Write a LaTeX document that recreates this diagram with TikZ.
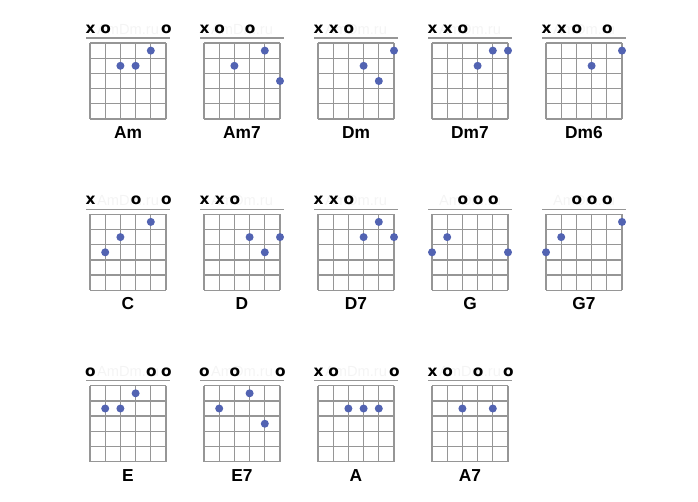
\documentclass[tikz,border=0pt]{standalone}
\usepackage{fontspec}
\setmainfont{Liberation Sans}
\newfontfamily\markfont{DejaVu Sans}
\definecolor{dotblue}{RGB}{82,99,178}
\definecolor{gridgray}{RGB}{150,150,150}
\definecolor{wmgray}{RGB}{244,244,244}
\tikzset{
  gridline/.style={draw=gridgray, line width=1pt},
  nutline/.style={draw=gridgray, line width=0.9pt},
  fingerdot/.style={fill=dotblue},
  chordname/.style={font=\bfseries\fontsize{13}{14}\selectfont, anchor=base, inner sep=0pt},
  stringmark/.style={font=\markfont\bfseries\fontsize{11.5}{12}\selectfont, anchor=base, inner sep=0pt},
  watermark/.style={font=\fontsize{11}{12}\selectfont, text=wmgray, anchor=base, inner sep=0pt},
}
% #1 left, #2 top, #3 id, #4 name, #5 string marks, #6 dots
\newcommand\chorddiagram[6]{%
  \begin{scope}[shift={(#1,#2)}]
    \node[watermark] (wm-#3) at (38,-9) {AmDm.ru};
    \draw[nutline] (-4,-5) -- (80,-5);
    \foreach \i in {0,...,5} {
      \draw[gridline] (\i*15.2,0) -- (\i*15.2,76);
      \draw[gridline] (0,\i*15.2) -- (76,\i*15.2);
    }
    \foreach \s/\m in {#5} \node[stringmark] (mk-#3-\s) at ({(\s-1)*15.2+0.5},-9.5) {\m};
    \foreach \s/\f in {#6} \fill[fingerdot] ({(\s-1)*15.2},{(\f-0.5)*15.2}) circle (4);
    \node[chordname] (lbl-#3) at (38,95.5) {#4};
  \end{scope}}
\begin{document}
\begin{tikzpicture}[x=0.75pt,y=-0.75pt]
  \useasboundingbox (0,0) rectangle (698,501);
  % row 1
  \chorddiagram{90}{43}{am}{Am}{1/x,2/o,6/o}{5/1,3/2,4/2}
  \chorddiagram{204}{43}{amseven}{Am7}{1/x,2/o,4/o}{5/1,3/2,6/3}
  \chorddiagram{318}{43}{dm}{Dm}{1/x,2/x,3/o}{6/1,4/2,5/3}
  \chorddiagram{432}{43}{dmseven}{Dm7}{1/x,2/x,3/o}{5/1,6/1,4/2}
  \chorddiagram{546}{43}{dmsix}{Dm6}{1/x,2/x,3/o,5/o}{6/1,4/2}
  % row 2
  \chorddiagram{90}{214.3}{c}{C}{1/x,4/o,6/o}{5/1,3/2,2/3}
  \chorddiagram{204}{214.3}{d}{D}{1/x,2/x,3/o}{4/2,6/2,5/3}
  \chorddiagram{318}{214.3}{dseven}{D7}{1/x,2/x,3/o}{5/1,4/2,6/2}
  \chorddiagram{432}{214.3}{g}{G}{3/o,4/o,5/o}{2/2,1/3,6/3}
  \chorddiagram{546}{214.3}{gseven}{G7}{3/o,4/o,5/o}{6/1,2/2,1/3}
  % row 3
  \chorddiagram{90}{385.7}{e}{E}{1/o,5/o,6/o}{4/1,2/2,3/2}
  \chorddiagram{204}{385.7}{eseven}{E7}{1/o,3/o,6/o}{4/1,2/2,5/3}
  \chorddiagram{318}{385.7}{a}{A}{1/x,2/o,6/o}{3/2,4/2,5/2}
  \chorddiagram{432}{385.7}{aseven}{A7}{1/x,2/o,4/o,6/o}{3/2,5/2}
\end{tikzpicture}
\end{document}
